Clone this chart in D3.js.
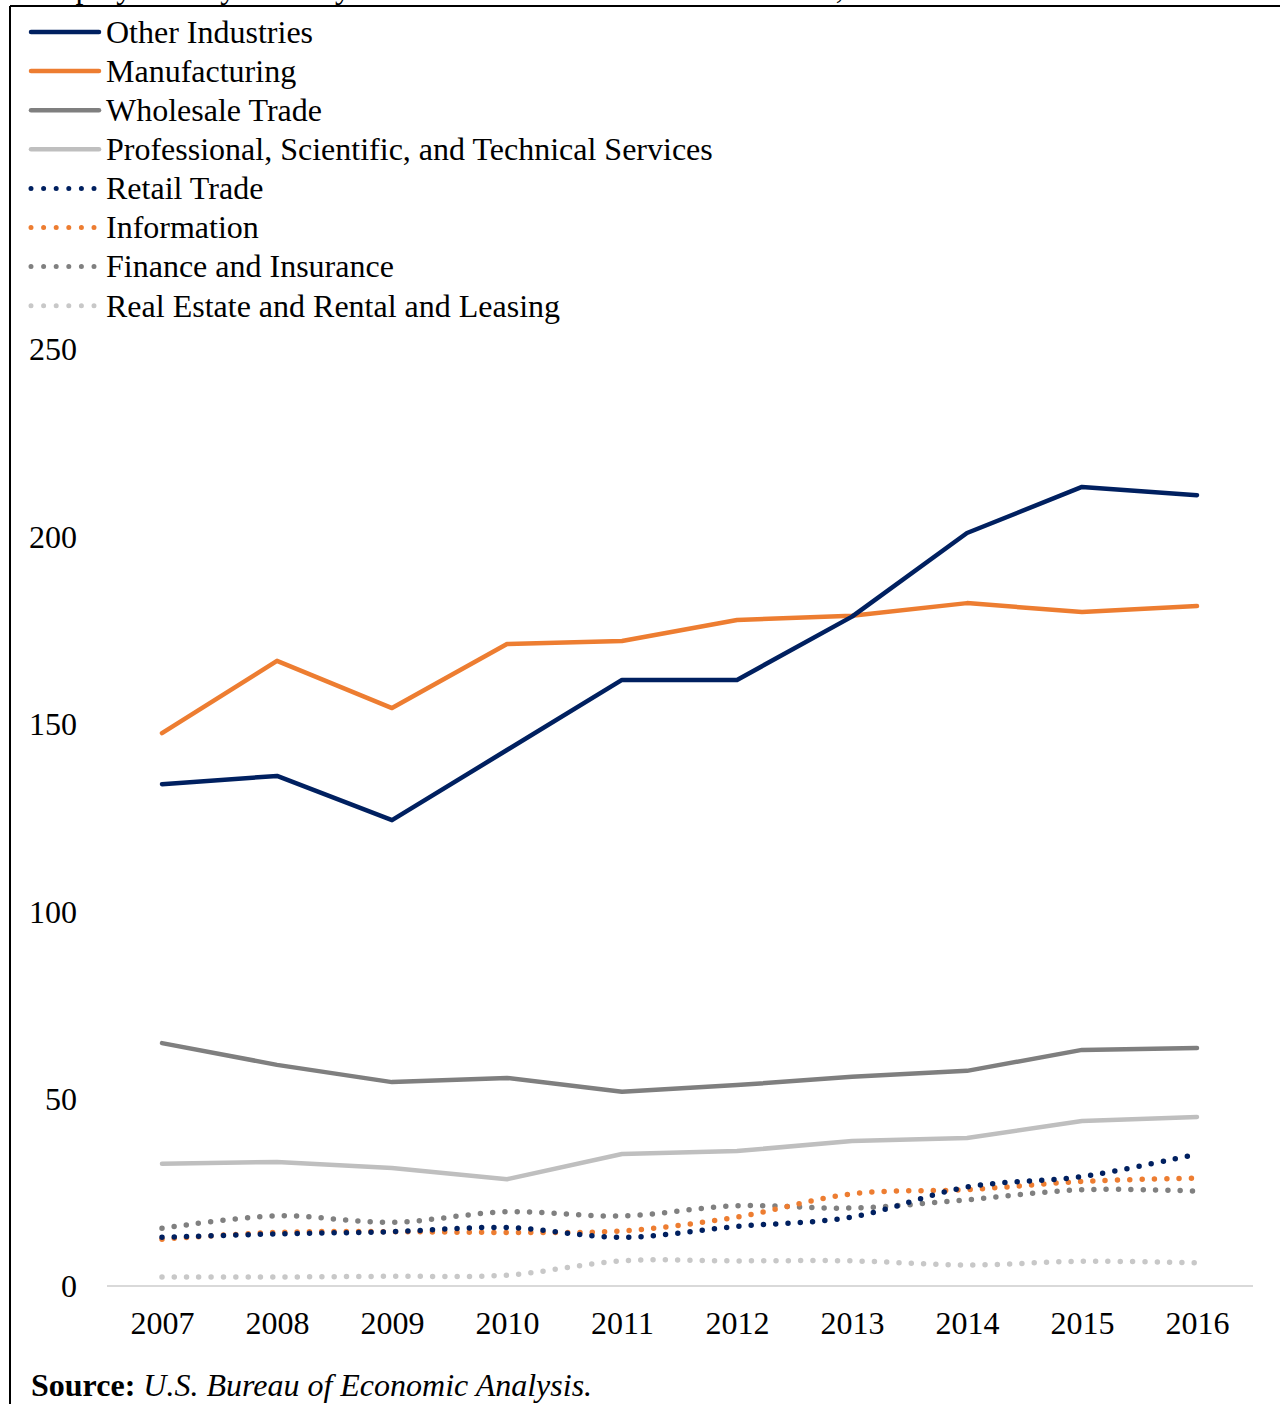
<!DOCTYPE html>
<html>
<head>
<meta charset="utf-8">
<script src="https://cdn.jsdelivr.net/npm/d3@7"></script>
<style>
  html, body { margin: 0; padding: 0; background: #fff; }
  svg { display: block; }
  text { font-family: "Liberation Serif", "Times New Roman", serif; fill: #000; }
</style>
</head>
<body>
<svg id="chart" width="1280" height="1404"></svg>
<script>
// ---- data ----
const years = ["2007","2008","2009","2010","2011","2012","2013","2014","2015","2016"];
const otherIndustries = [133.9, 136.1, 124.3, 143.0, 161.7, 161.7, 178.6, 200.9, 213.2, 211.0];
const manufacturing   = [147.5, 166.8, 154.2, 171.3, 172.1, 177.7, 178.8, 182.2, 179.8, 181.4];
const wholesaleTrade  = [64.8, 59.0, 54.4, 55.5, 51.8, 53.6, 55.8, 57.4, 63.0, 63.5];
const professional    = [32.6, 33.1, 31.5, 28.5, 35.2, 36.0, 38.7, 39.5, 44.0, 45.1];
const retailTrade     = [13.0, 13.9, 14.5, 15.6, 13.0, 15.9, 18.4, 26.4, 29.2, 35.2];
const information     = [12.5, 14.3, 14.5, 14.3, 14.7, 18.4, 24.6, 25.7, 27.9, 28.8];
const financeInsur    = [15.4, 18.7, 17.0, 19.8, 18.7, 21.4, 20.8, 23.0, 25.7, 25.3];
const realEstate      = [2.4, 2.4, 2.6, 2.9, 6.7, 6.7, 6.7, 5.6, 6.6, 6.2];
const yTicks = [0, 50, 100, 150, 200, 250];
const seriesNames = ["Other Industries","Manufacturing","Wholesale Trade","Professional, Scientific, and Technical Services","Retail Trade","Information","Finance and Insurance","Real Estate and Rental and Leasing"];
const seriesValues = [otherIndustries, manufacturing, wholesaleTrade, professional, retailTrade, information, financeInsur, realEstate];
const seriesColors = ["#002060","#ED7D31","#7F7F7F","#BFBFBF","#002060","#ED7D31","#808080","#C8C8C8"];
const seriesDotted = [false,false,false,false,true,true,true,true];
const titleText = "Employment by Industry of U.S. Affiliates in the State of Ohio, 2007–2016";
const sourceLabel = "Source:";
const sourceText = " U.S. Bureau of Economic Analysis.";

// ---- drawing ----
const svg = d3.select("#chart");
const FS = 32;

// frame
svg.append("line").attr("x1", 10).attr("x2", 1280).attr("y1", 6).attr("y2", 6)
  .attr("stroke", "#000").attr("stroke-width", 2);
svg.append("line").attr("x1", 10).attr("x2", 10).attr("y1", 6).attr("y2", 1404)
  .attr("stroke", "#000").attr("stroke-width", 2);

// cut-off title (only descenders visible, as in the reference)
svg.append("text").attr("x", 31).attr("y", -2).attr("font-size", FS).text(titleText);

const x = d3.scalePoint().domain(years).range([162, 1197]);
const y = d3.scaleLinear().domain([0, 250]).range([1286, 349]);

// y axis labels
const yAxis = d3.axisLeft(y).tickValues(yTicks).tickSize(0).tickPadding(0).tickFormat(d3.format("d"));
const gy = svg.append("g").attr("transform", "translate(77,0)").call(yAxis);
gy.select(".domain").remove();
gy.selectAll("text").attr("font-size", FS).attr("font-family", "Liberation Serif").attr("fill", "#000").attr("dy", "0.34em");

// x axis baseline
svg.append("line").attr("x1", 107).attr("x2", 1253).attr("y1", y(0)).attr("y2", y(0))
  .attr("stroke", "#D9D9D9").attr("stroke-width", 2);

const xAxis = d3.axisBottom(x).tickSize(0).tickPadding(0);
const gx = svg.append("g").attr("transform", "translate(0,1323)").call(xAxis);
gx.select(".domain").remove();
gx.selectAll("text").attr("font-size", FS).attr("font-family", "Liberation Serif").attr("fill", "#000").attr("dy", "0.34em");

// lines
const lineStraight = d3.line().x((d, i) => x(years[i])).y(d => y(d));
const lineSmooth = d3.line().x((d, i) => x(years[i])).y(d => y(d)).curve(d3.curveCatmullRom.alpha(0.5));

const order = [7, 6, 5, 4, 3, 2, 1, 0];
order.forEach(k => {
  const p = svg.append("path")
    .attr("d", (seriesDotted[k] ? lineSmooth : lineStraight)(seriesValues[k]))
    .attr("fill", "none")
    .attr("stroke", seriesColors[k])
    .attr("stroke-linejoin", "round");
  if (seriesDotted[k]) {
    p.attr("stroke-width", 5.5).attr("stroke-linecap", "round").attr("stroke-dasharray", "0 12.3");
  } else {
    p.attr("stroke-width", 4.5).attr("stroke-linecap", "round");
  }
});

// legend
const lg = svg.append("g");
seriesNames.forEach((name, i) => {
  const cy = 32 + i * 39.1;
  const l = lg.append("line").attr("x1", 31).attr("x2", seriesDotted[i] ? 94.5 : 99)
    .attr("y1", cy).attr("y2", cy).attr("stroke", seriesColors[i]).attr("stroke-linecap", "round");
  if (seriesDotted[i]) l.attr("stroke-width", 5).attr("stroke-dasharray", "0 12.6");
  else l.attr("stroke-width", 4.5);
  lg.append("text").attr("x", 106).attr("y", cy).attr("dy", "0.34em").attr("font-size", FS).text(name);
});

// source
const src = svg.append("text").attr("x", 31).attr("y", 1396).attr("font-size", FS);
src.append("tspan").attr("font-weight", "bold").text(sourceLabel);
src.append("tspan").attr("font-style", "italic").text(sourceText);
</script>
</body>
</html>
